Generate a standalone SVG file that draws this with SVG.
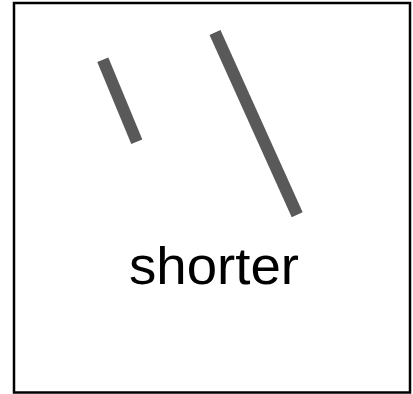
<svg xmlns="http://www.w3.org/2000/svg" width="413" height="394" viewBox="0 0 413 394">
<style>
.bar{stroke:#595959;stroke-width:12;stroke-linecap:butt;fill:none}
.lbl{font-family:"Liberation Sans",Arial,sans-serif;font-size:51px;fill:#000}
</style>
<rect x="0" y="0" width="413" height="394" fill="#fff"/>
<g id="frame"><rect x="14" y="3" width="396" height="389.5" fill="none" stroke="#000" stroke-width="2.5"/></g>
<g id="short-bar"><line class="bar" x1="102.8" y1="59.8" x2="136.8" y2="141.7"/></g>
<g id="long-bar"><line class="bar" x1="215" y1="32.5" x2="297.2" y2="214.8"/></g>
<g id="label"><text class="lbl" x="129" y="284" textLength="170" lengthAdjust="spacingAndGlyphs">shorter</text></g>
</svg>
